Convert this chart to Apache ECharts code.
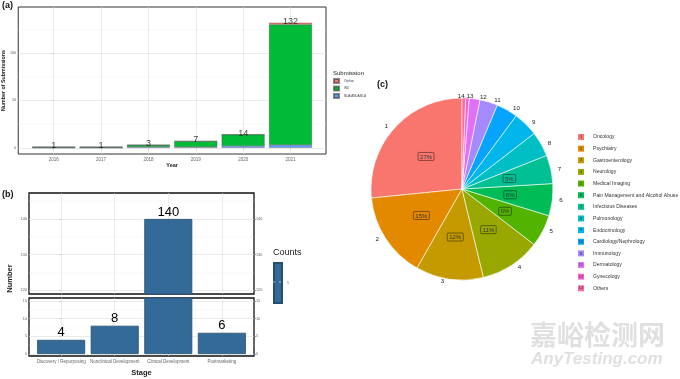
<!DOCTYPE html>
<html><head><meta charset="utf-8">
<script src="https://cdn.jsdelivr.net/npm/echarts@6/dist/echarts.min.js"></script>
<style>html,body{margin:0;padding:0;background:#fff}#c{width:680px;height:379px}</style>
</head><body><div id="c"></div>
<script>
// ---------- Panel (a): submissions per year ----------
const years = ['2016','2017','2018','2019','2020','2021'];
const subNames = ['Orphan','IND','NDA/ANDA/BLA'];
const subPink  = [0,0,0,0,0,2];
const subGreen = [1,1,2,6,12,127];
const subBlue  = [0,0,1,1,2,3];
const aYTicks = [0,50,100];
const aYMinor = [25,75,125];
// ---------- Panel (b): stage counts ----------
const stages = ['Discovery / Repurposing','Nonclinical Development','Clinical Development','Postmarketing'];
const stageCounts = [4,8,140,6];
const bUpperTicks = [120,130,140];
const bUpperMinor = [125,135,145];
const bLowerTicks = [0,5,10,15];
const bLowerMinor = [2.5,7.5,12.5];
// ---------- Panel (c): therapeutic areas ----------
const areas = ['Oncology','Psychiatry','Gastroenterology','Neurology','Medical Imaging','Pain Management and Alcohol Abuse','Infectious Diseases','Pulmonology','Endocrinology','Cardiology/Nephrology','Immunology','Dermatology','Gynecology','Others'];
const areaCounts = [42,24,19,17,9,9,8,7,7,6,5,3,1,1];
const areaOuterLabels = ['1','2','3','4','5','6','7','8','9','10','11','12','','14,13'];

// styles
const subColors = ['#F8766D','#00BA38','#619CFF'];
const sliceColors = ['#F8766D','#E38900','#C49A00','#99A800','#53B400','#00BC56','#00C094','#00BFC4','#00B6EB','#06A4FF','#A58AFF','#DF70F8','#FB61D7','#FF66A8'];
const barBlue = '#336A98';
const FONT = 'Liberation Sans';

const yearIdx = years.map((_, i) => i);
const stageIdx = stages.map((_, i) => i);
const totals = years.map((_, i) => subPink[i] + subGreen[i] + subBlue[i]);

const aRange = [-6.5, 148.5];
const bUpper = [118.9, 147.3];
const bLower = [-0.57, 15.85];

const major = {color:'#dedede', width:0.6, type:'solid'};
const minor = {color:'#efefef', width:0.4, type:'solid'};
function gridLines(hMajor, hMinor, vMajor) {
  return {
    silent:true, z:1, symbol:['none','none'], label:{show:false}, animation:false,
    emphasis:{disabled:true},
    data: [
      ...hMinor.map(v => ({yAxis:v, lineStyle:minor})),
      ...hMajor.map(v => ({yAxis:v, lineStyle:major})),
      ...vMajor.map(v => ({xAxis:v, lineStyle:major}))
    ]
  };
}

const tickStyle = {lineStyle:{color:'#555', width:0.5}, length:2};
function valAxisY(grid, range, ticks, pos, extra) {
  return Object.assign({
    type:'value', gridIndex:grid, position:pos, min:range[0], max:range[1],
    axisLine:{show:false}, splitLine:{show:false},
    axisTick:Object.assign({show:true, customValues:ticks}, tickStyle),
    axisLabel:{customValues:ticks, fontSize:3.8, color:'#666', margin:2, fontFamily:FONT}
  }, extra || {});
}
// bar data as [value, index] so the value dimension is the stacked one
function stackData(arr) { return arr.map((v, i) => [v, i]); }
const subBorder = {borderColor:'rgba(60,60,60,0.6)', borderWidth:0.5};

const chart = echarts.init(document.getElementById('c'), null, {renderer:'canvas'});
const option = {
  animation:false,
  backgroundColor:'#fff',
  textStyle:{fontFamily:FONT},
  grid:[
    {left:18, top:7, width:308, height:147, show:true, borderColor:'#333', borderWidth:1, backgroundColor:'#fff'},
    {left:29, top:193, width:225, height:101, show:true, borderColor:'#111', borderWidth:1.3, backgroundColor:'#fff'},
    {left:29, top:298, width:225, height:58, show:true, borderColor:'#111', borderWidth:1.3, backgroundColor:'#fff'}
  ],
  xAxis:[
    {type:'value', gridIndex:0, min:-0.75, max:5.75, axisLine:{show:false}, splitLine:{show:false},
     axisTick:Object.assign({show:true, customValues:yearIdx}, tickStyle),
     axisLabel:{customValues:yearIdx, formatter:v => years[v], fontSize:4.5, color:'#666', margin:3},
     name:'Year', nameLocation:'middle', nameGap:7,
     nameTextStyle:{fontSize:5.5, fontWeight:'bold', color:'#222'}},
    {type:'value', gridIndex:1, min:-0.6, max:3.6, axisLine:{show:false}, splitLine:{show:false},
     axisTick:{show:false}, axisLabel:{show:false}},
    {type:'value', gridIndex:2, min:-0.6, max:3.6, axisLine:{show:false}, splitLine:{show:false},
     axisTick:Object.assign({show:true, customValues:stageIdx}, tickStyle),
     axisLabel:{customValues:stageIdx, formatter:v => stages[v], fontSize:4.5, color:'#666', margin:3},
     name:'Stage', nameLocation:'middle', nameGap:13,
     nameTextStyle:{fontSize:7.5, fontWeight:'bold', color:'#222'}}
  ],
  yAxis:[
    valAxisY(0, aRange, aYTicks, 'left', {name:'Number of Submissions', nameLocation:'middle', nameGap:6,
      nameTextStyle:{fontSize:5.3, fontWeight:'bold', color:'#222'}}),
    valAxisY(1, bUpper, bUpperTicks, 'left'),
    valAxisY(1, bUpper, bUpperTicks, 'right'),
    valAxisY(2, bLower, bLowerTicks, 'left'),
    valAxisY(2, bLower, bLowerTicks, 'right')
  ],
  legend:[
    {left:333, top:78, padding:0, orient:'vertical', data:subNames, icon:'rect', itemWidth:5, itemHeight:4, itemGap:1.5,
     selectedMode:false, textStyle:{fontSize:3, color:'#444', lineHeight:4}},
    {left:273, top:262, padding:0, orient:'vertical', data:['1'], icon:'rect', itemWidth:8, itemHeight:40,
     selectedMode:false, textStyle:{fontSize:3.5, color:'#444'}},
    {left:571, top:132.5, padding:0, orient:'vertical', data:areas, icon:'rect', itemWidth:1, itemHeight:7, itemGap:2.64,
     itemStyle:{opacity:0}, selectedMode:false,
     formatter:name => { const i = areas.indexOf(name); return '{n' + i + '|' + (i + 1) + '}{sp|}' + name; },
     textStyle:{fontSize:5.1, color:'#333', lineHeight:7,
       rich:Object.assign({sp:{width:9}}, ...sliceColors.map((c, i) => ({['n' + i]:
         {backgroundColor:c, width:6, height:6, lineHeight:6, align:'center', fontSize:4, color:'#333'}})))}}
  ],
  series:[
    {name:subNames[2], type:'bar', stack:'sub', xAxisIndex:0, yAxisIndex:0, barWidth:43, z:2,
     encode:{x:1, y:0}, data:stackData(subBlue),
     itemStyle:Object.assign({color:subColors[2]}, subBorder),
     markLine:gridLines(aYTicks, aYMinor, yearIdx)},
    {name:subNames[1], type:'bar', stack:'sub', xAxisIndex:0, yAxisIndex:0, barWidth:43, z:2,
     encode:{x:1, y:0}, data:stackData(subGreen),
     itemStyle:Object.assign({color:subColors[1]}, subBorder)},
    {name:subNames[0], type:'bar', stack:'sub', xAxisIndex:0, yAxisIndex:0, barWidth:43, z:2,
     encode:{x:1, y:0}, data:stackData(subPink),
     itemStyle:Object.assign({color:subColors[0]}, subBorder)},
    {name:'totals', type:'scatter', xAxisIndex:0, yAxisIndex:0, symbolSize:1, z:4,
     itemStyle:{color:'rgba(0,0,0,0)'},
     data:totals.map((v, i) => [i, v]),
     label:{show:true, position:'inside', offset:[0,-1.5], formatter:p => p.value[1], fontSize:9, color:'#111'}},
    {name:'1', type:'bar', xAxisIndex:1, yAxisIndex:1, barWidth:48, z:2, clip:true,
     data:stageCounts.map((v, i) => [i, v]),
     itemStyle:{color:barBlue, borderColor:'#24506f', borderWidth:0.8},
     label:{show:true, position:'top', distance:0, fontSize:13, color:'#000',
       formatter:p => (p.value[1] >= bUpper[0] ? p.value[1] : '')},
     markLine:gridLines(bUpperTicks, bUpperMinor, stageIdx)},
    {name:'1', type:'bar', xAxisIndex:2, yAxisIndex:3, barWidth:48, z:2, clip:true,
     data:stageCounts.map((v, i) => [i, v]),
     itemStyle:{color:barBlue, borderColor:'#24506f', borderWidth:0.8},
     label:{show:true, position:'top', distance:1, fontSize:13, color:'#000',
       formatter:p => (p.value[1] <= bLower[1] ? p.value[1] : '')},
     markLine:gridLines(bLowerTicks, bLowerMinor, stageIdx)},
    {name:'areas', type:'pie', center:[462,189], radius:91, startAngle:90, clockwise:false,
     avoidLabelOverlap:false, silent:true, color:sliceColors,
     itemStyle:{borderColor:'#fff', borderWidth:0.6},
     data:areas.map((n, i) => ({name:n, value:areaCounts[i]})),
     labelLine:{show:false},
     label:{show:true, position:'inside',
       formatter:p => (Math.round(p.percent) >= 5 ? '{box|' + Math.round(p.percent) + '%}' : ''),
       rich:{box:{fontSize:6, color:'#333', borderColor:'rgba(0,0,0,0.55)', borderWidth:0.8,
         borderRadius:1, padding:[1.5,2,0.5,2]}}}},
    {name:'areaNums', type:'pie', center:[462,189], radius:91, startAngle:90, clockwise:false,
     avoidLabelOverlap:false, silent:true, minShowLabelAngle:0,
     labelLayout:{hideOverlap:false},
     itemStyle:{color:'rgba(0,0,0,0)', borderWidth:0},
     data:areas.map((n, i) => ({name:n, value:areaCounts[i],
       label:(areaOuterLabels[i].indexOf(',') >= 0 ? {offset:[-11,0]} : undefined)})),
     labelLine:{show:false, length:2, length2:0},
     label:{show:true, position:'outside', alignTo:'none', formatter:p => areaOuterLabels[p.dataIndex],
       fontSize:6.2, color:'#222'}}
  ],
  graphic:[
    {type:'text', x:2, y:6, style:{text:'(a)', font:'bold 9px Liberation Sans', fill:'#111', verticalAlign:'middle'}},
    {type:'text', x:2, y:195, style:{text:'(b)', font:'bold 9px Liberation Sans', fill:'#111', verticalAlign:'middle'}},
    {type:'text', x:377, y:84.5, style:{text:'(c)', font:'bold 9px Liberation Sans', fill:'#111', verticalAlign:'middle'}},
    {type:'text', x:333, y:73, style:{text:'Submission', font:'6px Liberation Sans', fill:'#222', verticalAlign:'middle'}},
    {type:'text', x:273, y:252.5, style:{text:'Counts', font:'9px Liberation Sans', fill:'#222', verticalAlign:'middle'}},
    {type:'text', x:9.5, y:278.5, rotation:Math.PI/2, style:{text:'Number', font:'bold 7.5px Liberation Sans', fill:'#222', align:'center', verticalAlign:'middle'}},
    {type:'line', shape:{x1:273, y1:282, x2:275, y2:282}, style:{stroke:'#fff', lineWidth:0.6}, z:100},
    {type:'line', shape:{x1:279, y1:282, x2:281, y2:282}, style:{stroke:'#fff', lineWidth:0.6}, z:100},
    {type:'text', x:530, y:335, style:{text:'嘉峪检测网', font:'bold 27px "Noto Sans CJK SC"', fill:'#e0e0e0', verticalAlign:'middle'}, z:-1},
    {type:'text', x:531, y:359, style:{text:'AnyTesting.com', font:'italic bold 17px Liberation Sans', fill:'#e0e0e0', verticalAlign:'middle'}, z:-1}
  ]
};
chart.setOption(option);
</script>
</body></html>
